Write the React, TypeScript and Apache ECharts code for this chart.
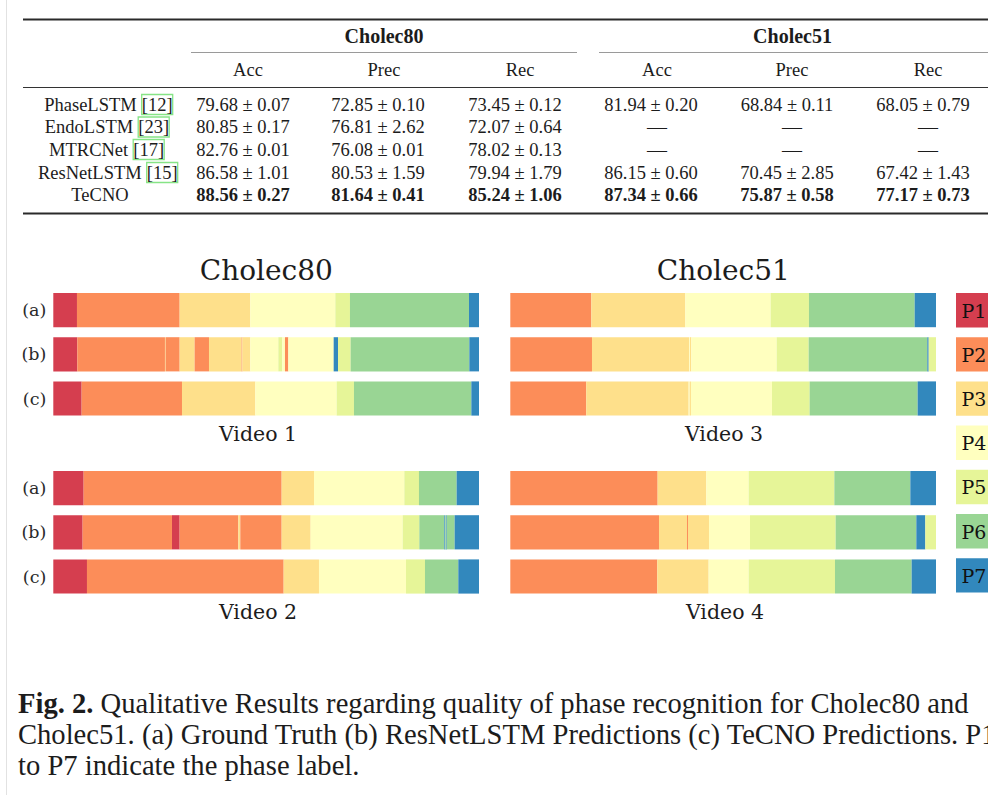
import React, { useEffect, useRef } from 'react';
import * as echarts from 'echarts';

// ---------------- data ----------------
const PHASES = ['P1', 'P2', 'P3', 'P4', 'P5', 'P6', 'P7'];
const PHASE_COLORS = ['#d53e4f', '#fc8d59', '#fee08b', '#ffffbf', '#e6f598', '#99d594', '#3288bd'];
const ROW_LABELS = ['(a)', '(b)', '(c)'];
const DATASETS = ['Cholec80', 'Cholec51'];
const VIDEO_TITLES = ['Video 1', 'Video 2', 'Video 3', 'Video 4'];
const METRICS = ['Acc', 'Prec', 'Rec'];

const METHODS = ['PhaseLSTM', 'EndoLSTM', 'MTRCNet', 'ResNetLSTM', 'TeCNO'];
const CITES = ['12', '23', '17', '15', null];
const C80_ACC = [[79.68, 0.07], [80.85, 0.17], [82.76, 0.01], [86.58, 1.01], [88.56, 0.27]];
const C80_PREC = [[72.85, 0.1], [76.81, 2.62], [76.08, 0.01], [80.53, 1.59], [81.64, 0.41]];
const C80_REC = [[73.45, 0.12], [72.07, 0.64], [78.02, 0.13], [79.94, 1.79], [85.24, 1.06]];
const C51_ACC = [[81.94, 0.2], null, null, [86.15, 0.6], [87.34, 0.66]];
const C51_PREC = [[68.84, 0.11], null, null, [70.45, 2.85], [75.87, 0.58]];
const C51_REC = [[68.05, 0.79], null, null, [67.42, 1.43], [77.17, 0.73]];

// timelines: [phase, duration in % of video]
const VIDEO1_GT = [[1, 5.56], [2, 24.12], [3, 16.6], [4, 19.97], [5, 3.44], [6, 27.96], [7, 2.35]];
const VIDEO1_RESNET = [[1, 5.64], [2, 20.59], [3, 0.16], [2, 3.29], [3, 3.52], [2, 3.37], [3, 7.67], [2, 0.16], [3, 1.88], [4, 6.58], [5, 0.94], [4, 0.62], [2, 0.79], [4, 10.65], [7, 1.02], [5, 2.97], [6, 27.88], [7, 2.27]];
const VIDEO1_TECNO = [[1, 6.66], [2, 23.57], [3, 17.23], [4, 19.1], [5, 4.07], [6, 27.57], [7, 1.8]];

const VIDEO2_GT = [[1, 7.13], [2, 46.51], [3, 7.6], [4, 21.22], [5, 3.44], [6, 8.85], [7, 5.25]];
const VIDEO2_RESNET = [[1, 6.89], [2, 20.99], [1, 1.8], [2, 13.78], [3, 0.47], [2, 9.71], [3, 6.81], [4, 21.62], [5, 3.91], [6, 5.88], [7, 0.23], [6, 0.16], [7, 0.15], [6, 1.88], [7, 5.72]];
const VIDEO2_TECNO = [[1, 7.91], [2, 46.2], [3, 8.3], [4, 20.44], [5, 4.46], [6, 7.83], [7, 4.86]];

const VIDEO3_GT = [[2, 19.03], [3, 22.08], [4, 20.05], [5, 9.0], [6, 24.83], [7, 5.01]];
const VIDEO3_RESNET = [[2, 19.19], [3, 22.86], [4, 0.16], [3, 0.31], [4, 20.05], [5, 7.52], [6, 27.87], [7, 0.32], [5, 1.72]];
const VIDEO3_TECNO = [[2, 17.85], [3, 24.05], [4, 0.23], [3, 0.31], [4, 19.03], [5, 8.85], [6, 25.37], [7, 4.31]];

const VIDEO4_GT = [[2, 34.61], [3, 11.44], [4, 9.94], [5, 20.13], [6, 17.85], [7, 6.03]];
const VIDEO4_RESNET = [[2, 34.93], [3, 6.57], [2, 0.24], [3, 4.93], [4, 9.63], [5, 20.13], [6, 18.95], [7, 2.11], [5, 2.51]];
const VIDEO4_TECNO = [[2, 34.53], [3, 12.06], [4, 9.4], [5, 20.28], [6, 18.01], [7, 5.72]];

const CAPTION_LINES = [
  'Qualitative Results regarding quality of phase recognition for Cholec80 and',
  'Cholec51. (a) Ground Truth (b) ResNetLSTM Predictions (c) TeCNO Predictions. P1',
  'to P7 indicate the phase label.',
];

// ---------------- layout ----------------
const VIDEOS = [
  [VIDEO1_GT, VIDEO1_RESNET, VIDEO1_TECNO],
  [VIDEO2_GT, VIDEO2_RESNET, VIDEO2_TECNO],
  [VIDEO3_GT, VIDEO3_RESNET, VIDEO3_TECNO],
  [VIDEO4_GT, VIDEO4_RESNET, VIDEO4_TECNO],
];
const GRID_POS = [
  { left: 53.3, top: 288 },
  { left: 53.3, top: 466 },
  { left: 510.3, top: 288 },
  { left: 510.3, top: 466 },
];
const GRID_W = 425.7;
const GRID_H = 132.6;
const TITLE_POS = [[258, 434], [258, 612], [724, 434], [725, 612]];

const SERIF_T = '"Liberation Serif", "Times New Roman", serif';
const SERIF_F = '"DejaVu Serif", serif';
const INK = '#1c1c1c';

function toSegments(rows: number[][][]) {
  const out: number[][] = [];
  rows.forEach((row, r) => {
    let t = 0;
    row.forEach(([p, d]) => {
      out.push([t, t + d, r, p]);
      t += d;
    });
  });
  return out;
}

const fmt = (v: number[] | null) => (v ? `${v[0].toFixed(2)} ± ${v[1].toFixed(2)}` : '—');

function text(x: number, y: number, s: string, o: any = {}) {
  const align = o.align || 'center';
  const style: any = {
    text: s,
    fill: o.fill || INK,
    fontSize: o.size || 18.5,
    fontFamily: o.family || SERIF_T,
    fontWeight: o.weight || 'normal',
    align,
    textAlign: align,
    verticalAlign: 'middle',
    textVerticalAlign: 'middle',
  };
  if (o.rich) style.rich = o.rich;
  return { type: 'text', x, y, silent: true, style };
}

function line(x1: number, y1: number, x2: number, y2: number, stroke: string, w: number) {
  return { type: 'line', silent: true, shape: { x1, y1, x2, y2 }, style: { stroke, lineWidth: w } };
}

function buildOption() {
  const g: any[] = [];
  // page edge
  g.push(line(6.5, 0, 6.5, 795, '#e2e2e2', 1));

  // ---- table ----
  g.push(line(23, 19.5, 988, 19.5, '#2a2a2a', 2));
  g.push(line(191, 52.5, 577, 52.5, '#9a9a9a', 1));
  g.push(line(599, 52.5, 988, 52.5, '#9a9a9a', 1));
  g.push(line(23, 87.5, 988, 87.5, '#333', 1.2));
  g.push(line(23, 213.5, 988, 213.5, '#2a2a2a', 2));

  const headX = [248, 384, 520, 657, 792, 928];
  const valX = [243, 378, 515, 651, 787, 923];
  g.push(text(384, 36, DATASETS[0], { weight: 'bold', size: 20 }));
  g.push(text(792.5, 36, DATASETS[1], { weight: 'bold', size: 20 }));
  headX.forEach((x, i) => g.push(text(x, 70, METRICS[i % 3])));

  const rowY = [104.5, 127, 149.5, 172.5, 195];
  const citeCx = [157.2, 153.7, 148.7, 162.2];
  const cols = [C80_ACC, C80_PREC, C80_REC, C51_ACC, C51_PREC, C51_REC];
  METHODS.forEach((m, r) => {
    const y = rowY[r];
    const cite = CITES[r];
    if (cite) {
      const cx = citeCx[r];
      const bw = 31;
      g.push({
        type: 'rect',
        silent: true,
        shape: { x: cx - bw / 2, y: y - 10, width: bw, height: 20 },
        style: { fill: 'none', stroke: '#86e486', lineWidth: 1.3 },
      });
      g.push(text(cx, y, `[${cite}]`));
      g.push(text(cx - bw / 2 - 5, y, m, { align: 'right' }));
    } else {
      g.push(text(100, y, m));
    }
    const bold = r === METHODS.length - 1;
    cols.forEach((col, c) => {
      const v = col[r];
      if (v) g.push(text(valX[c], y, fmt(v), { weight: bold ? 'bold' : 'normal' }));
      else g.push(text(headX[c], y, '—', { size: 20 }));
    });
  });

  // ---- figure titles ----
  g.push(text(266.3, 270, DATASETS[0], { family: SERIF_F, size: 28 }));
  g.push(text(723.3, 270, DATASETS[1], { family: SERIF_F, size: 28 }));
  TITLE_POS.forEach(([x, y], i) => g.push(text(x, y, VIDEO_TITLES[i], { family: SERIF_F, size: 20.5 })));

  // ---- legend ----
  PHASES.forEach((p, i) => {
    const y = 293 + i * 44.2;
    g.push({
      type: 'rect',
      silent: true,
      shape: { x: 956, y, width: 50, height: 34.4 },
      style: { fill: PHASE_COLORS[i] },
    });
    g.push(text(961.5, y + 17.5, p, { family: SERIF_F, size: 19, align: 'left', fill: '#111' }));
  });

  // ---- caption ----
  const capSize = 28.6;
  g.push(
    text(18, 703, `{b|Fig. 2.} ${CAPTION_LINES[0]}`, {
      align: 'left',
      size: capSize,
      rich: { b: { fontWeight: 'bold', fontSize: capSize, fontFamily: SERIF_T, fill: INK } },
    })
  );
  g.push(text(18, 734, CAPTION_LINES[1], { align: 'left', size: capSize }));
  g.push(text(18, 765, CAPTION_LINES[2], { align: 'left', size: capSize }));

  const grids = GRID_POS.map((p) => ({ left: p.left, top: p.top, width: GRID_W, height: GRID_H, containLabel: false }));
  const xAxis = GRID_POS.map((_, i) => ({ type: 'value', gridIndex: i, min: 0, max: 100, show: false }));
  const yAxis = GRID_POS.map((_, i) => ({
    type: 'category',
    gridIndex: i,
    data: ROW_LABELS,
    inverse: true,
    axisLine: { show: false },
    axisTick: { show: false },
    splitLine: { show: false },
    axisLabel: {
      show: i < 2,
      margin: 7,
      fontFamily: SERIF_F,
      fontSize: 17.5,
      color: '#2a2a2a',
    },
  }));

  const series = VIDEOS.map((rows, i) => ({
    type: 'custom',
    xAxisIndex: i,
    yAxisIndex: i,
    encode: { x: [0, 1], y: 2 },
    data: toSegments(rows),
    renderItem: (_params: any, api: any) => {
      const s = api.coord([api.value(0), api.value(2)]);
      const e = api.coord([api.value(1), api.value(2)]);
      const band = api.size([0, 1])[1];
      const h = band * (34.2 / 44.2);
      return {
        type: 'rect',
        shape: { x: s[0], y: s[1] - h / 2, width: Math.max(e[0] - s[0], 0.7), height: h },
        style: { fill: PHASE_COLORS[api.value(3) - 1] },
      };
    },
  }));

  return {
    animation: false,
    backgroundColor: '#ffffff',
    grid: grids,
    xAxis,
    yAxis,
    series,
    graphic: { elements: g },
  };
}

export default function App() {
  const ref = useRef<HTMLDivElement>(null);
  useEffect(() => {
    if (!ref.current) return;
    const chart = echarts.init(ref.current, null, { renderer: 'svg' });
    chart.setOption(buildOption() as any);
    return () => chart.dispose();
  }, []);
  return (
    <div
      ref={ref}
      style={{ position: 'absolute', left: 0, top: 0, width: 988, height: 795, background: '#fff' }}
    />
  );
}
